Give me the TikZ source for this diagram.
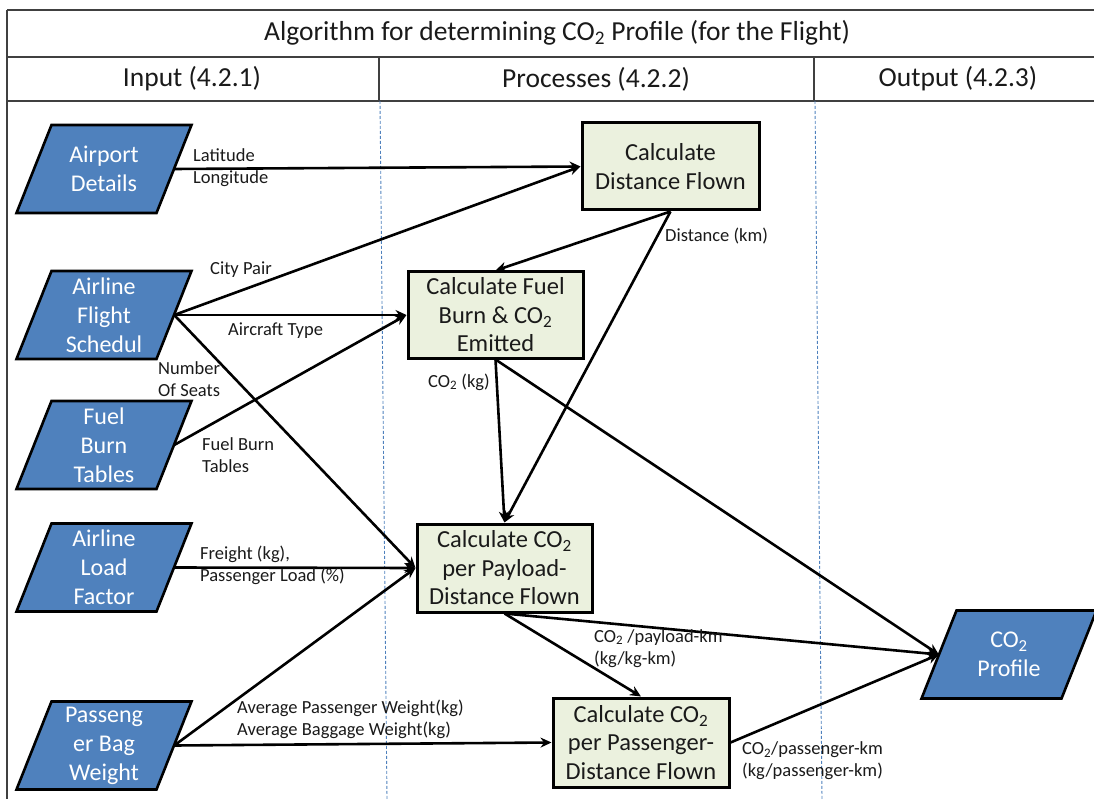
\documentclass[tikz,border=0pt]{standalone}
\usepackage{fontspec}
\setmainfont{Carlito}
\usetikzlibrary{arrows.meta,calc}
\definecolor{parablue}{HTML}{4F81BD}
\definecolor{boxgreen}{HTML}{EBF1DE}
\definecolor{gridgray}{HTML}{404040}
\definecolor{textdark}{HTML}{1A1A1A}
\tikzset{
  frame/.style={line width=2pt, draw=gridgray},
  colsep/.style={draw=parablue, line width=0.9pt, densely dashed},
  parashape/.style={fill=parablue, draw=black, line width=2.6pt, line join=miter},
  paratext/.style={inner sep=0pt, minimum width=140pt, minimum height=88pt, text=white, align=center, font=\fontsize{24}{29}\selectfont},
  procbox/.style={draw=black, fill=boxgreen, line width=3pt, inner sep=0pt, align=center, text=textdark, font=\fontsize{24.5}{28.5}\selectfont},
  flow/.style={draw=black, line width=2.6pt, -{Stealth[length=11pt,width=10pt]}},
  lbl/.style={anchor=west, inner sep=0pt, align=left, text=textdark, font=\fontsize{18.5}{22}\selectfont},
  headtxt/.style={inner sep=0pt, text=textdark, font=\fontsize{27.5}{30}\selectfont},
}
\newcommand{\paranode}[4]{%
  \draw[parashape] (#2-52.5,#3-44) -- (#2+87.5,#3-44) -- (#2+52.5,#3+44) -- (#2-87.5,#3+44) -- cycle;
  \node[paratext] (#1) at (#2,#3) {#4};
}
\begin{document}
\begin{tikzpicture}[x=1pt,y=-1pt]
\useasboundingbox (0,0) rectangle (1094,799);
% table frame
\draw[frame] (7,10) -- (1094,10);
\draw[frame] (7,57) -- (1094,57);
\draw[frame] (7,101) -- (1094,101);
\draw[frame] (7,10) -- (7,799);
\draw[frame] (379,57) -- (379,101);
\draw[frame] (814,57) -- (814,101);
\node[headtxt] (title) at (557,33) {Algorithm for determining CO\textsubscript{2} Profile (for the Flight)};
\node[headtxt] (hin) at (192,79) {Input (4.2.1)};
\node[headtxt] (hproc) at (596,79) {Processes (4.2.2)};
\node[headtxt] (hout) at (958,79) {Output (4.2.3)};
% column separators
\draw[colsep] (380,101) -- (387,799);
\draw[colsep] (815,101) -- (822,799);
% inputs
\paranode{ad}{104}{169}{Airport\\Details}
\paranode{afs}{104}{315}{Airline\\Flight\\Schedul}
\paranode{fbt}{104}{445}{Fuel\\Burn\\Tables}
\paranode{alf}{104}{567.5}{Airline\\Load\\Factor}
\paranode{pbw}{104}{745.5}{Passeng\\er Bag\\Weight}
\paranode{co2}{1009}{654.5}{CO\textsubscript{2}\\Profile}
% processes
\node[procbox, minimum width=177pt, minimum height=87pt] (dist) at (670.5,166.5) {Calculate\\Distance Flown};
\node[procbox, minimum width=175pt, minimum height=86pt] (fuel) at (495.5,315) {Calculate Fuel\\Burn \& CO\textsubscript{2}\\Emitted};
\node[procbox, minimum width=175pt, minimum height=88pt] (pay) at (504.5,568) {Calculate CO\textsubscript{2}\\per Payload-\\Distance Flown};
\node[procbox, minimum width=176pt, minimum height=89pt] (pass) at (641,742.5) {Calculate CO\textsubscript{2}\\per Passenger-\\Distance Flown};
% connectors
\draw[flow] (ad.east) -- (dist.west);
\draw[flow] (afs.east) -- (dist.west);
\draw[flow] (afs.east) -- (fuel.west);
\draw[flow] (afs.east) -- (pay.west);
\draw[flow] (fbt.east) -- (fuel.west);
\draw[flow] (alf.east) -- (pay.west);
\draw[flow] (pbw.east) -- (pay.west);
\draw[flow] (pbw.east) -- (pass.west);
\draw[flow] (dist.south) -- (fuel.north);
\draw[flow] (dist.south) -- (pay.north);
\draw[flow] (fuel.south) -- (pay.north);
\draw[flow] (fuel.south) -- (co2.west);
\draw[flow] (pay.south) -- (co2.west);
\draw[flow] (pay.south) -- (pass.north);
\draw[flow] (pass.east) -- (co2.west);
% labels
\node[lbl] (l1) at (193,168) {Latitude\\Longitude};
\node[lbl] (l2) at (210,270) {City Pair};
\node[lbl] (l3) at (228,331) {Aircraft Type};
\node[lbl] (l4) at (158,379) {Number\\Of Seats};
\node[lbl] (l5) at (202,455.5) {Fuel Burn\\Tables};
\node[lbl] (l6) at (200,565) {Freight (kg),\\Passenger Load (\%)};
\node[lbl] (l7) at (237,719) {Average Passenger Weight(kg)\\Average Baggage Weight(kg)};
\node[lbl] (l8) at (665,236) {Distance (km)};
\node[lbl] (l9) at (428,382) {CO\textsubscript{2} (kg)};
\node[lbl] (l10) at (594,648.5) {CO\textsubscript{2} /payload-km\\(kg/kg-km)};
\node[lbl] (l11) at (742,761) {CO\textsubscript{2}/passenger-km\\(kg/passenger-km)};
\end{tikzpicture}
\end{document}
